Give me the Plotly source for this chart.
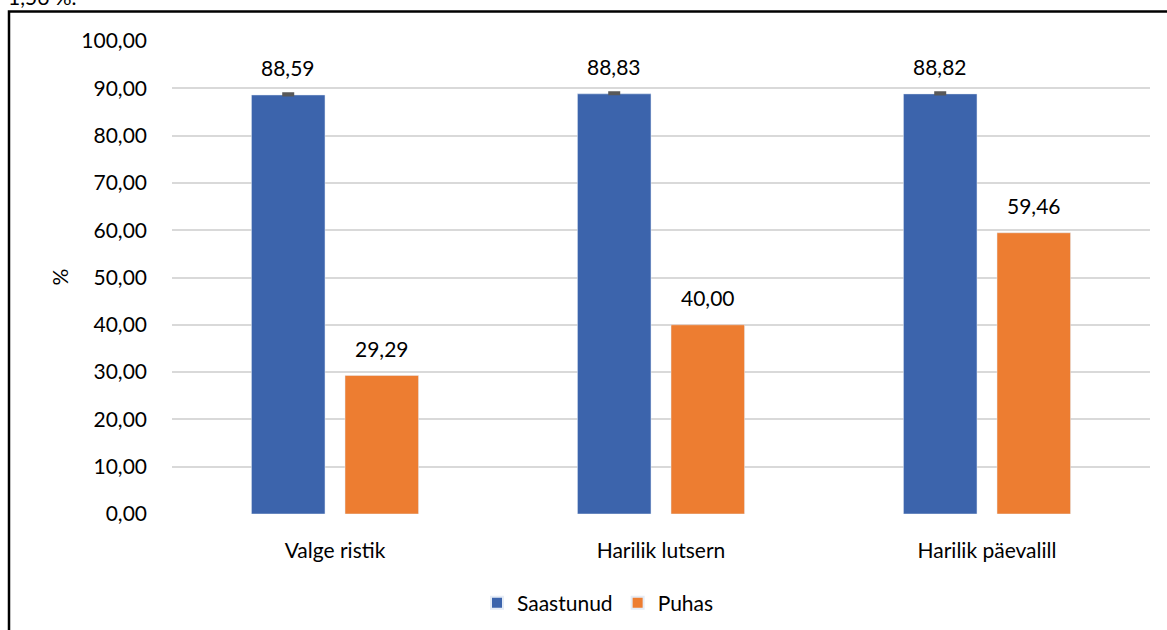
import plotly.graph_objects as go

categories = ["Valge ristik", "Harilik lutsern", "Harilik päevalill"]
saastunud = [88.59, 88.83, 88.82]
saastunud_err = [0.25, 0.25, 0.25]
puhas = [29.29, 40.00, 59.46]
y_ticks = [0, 10, 20, 30, 40, 50, 60, 70, 80, 90, 100]

BLUE = "#3C64AC"
ORANGE = "#ED7D31"
FONT = "Lato, 'Open Sans', sans-serif"
FS = 21

W, H = 1167, 630
L, R, T, B = 172, 17, 41, 116
pw, ph = W - L - R, H - T - B


def px_x(px):
    return (px - L) / pw


def px_y(py):
    return (H - B - py) / ph


fig = go.Figure()
fig.add_trace(go.Bar(
    name="Saastunud", x=categories, y=saastunud, marker_color=BLUE,
    error_y=dict(type="data", array=saastunud_err, arrayminus=[0, 0, 0],
                 color="#595959", thickness=3, width=6),
))
fig.add_trace(go.Bar(
    name="Puhas", x=categories, y=puhas, marker_color=ORANGE,
))

# value labels above each bar
for trace_idx, values in enumerate([saastunud, puhas]):
    for i, v in enumerate(values):
        fig.add_annotation(
            x=categories[i], y=v, xref="x", yref="y",
            text=f"{v:.2f}".replace(".", ","), showarrow=False,
            xshift=(-1 if trace_idx == 0 else 1) * 47,
            yanchor="middle", yshift=27,
            font=dict(family=FONT, size=FS, color="#000"),
        )

# y-axis title
fig.add_annotation(
    x=px_x(59), y=0.5, xref="paper", yref="paper",
    text="%", textangle=-90, showarrow=False,
    xanchor="center", yanchor="middle",
    font=dict(family=FONT, size=FS, color="#000"),
)

# text above the chart frame, partly cut off
fig.add_annotation(
    x=px_x(6), y=px_y(-4), xref="paper", yref="paper",
    text="1,56 %.", showarrow=False, xanchor="left", yanchor="middle",
    font=dict(family=FONT, size=FS, color="#000"),
)

# chart frame
fig.add_shape(
    type="rect", xref="paper", yref="paper",
    x0=px_x(9), x1=px_x(W + 20), y0=px_y(H + 20), y1=px_y(11.5),
    line=dict(color="#000", width=2.5), fillcolor="rgba(0,0,0,0)", layer="below",
)

fig.update_layout(
    width=W, height=H,
    margin=dict(l=L, r=R, t=T, b=B, autoexpand=False),
    paper_bgcolor="white", plot_bgcolor="white",
    separators=", ",
    barmode="group", bargap=0.426, bargroupgap=0.214,
    font=dict(family=FONT, size=FS, color="#000"),
    showlegend=True,
    legend=dict(orientation="h", xref="container", yref="container",
                x=598 / W, xanchor="center",
                y=1 - 603 / H, yanchor="middle",
                font=dict(family=FONT, size=FS, color="#000"),
                itemwidth=30, itemsizing="constant"),
    xaxis=dict(showgrid=False, showline=False, ticks="",
               tickfont=dict(family=FONT, size=FS), ticklabelstandoff=22),
    yaxis=dict(range=[0, 100], tickvals=y_ticks, tickformat=".2f",
               showgrid=True, gridcolor="#D9D9D9", gridwidth=1.5,
               zeroline=False, showline=False, ticks="",
               ticklabelstandoff=24,
               tickfont=dict(family=FONT, size=FS)),
)

fig.write_html("out.html")
